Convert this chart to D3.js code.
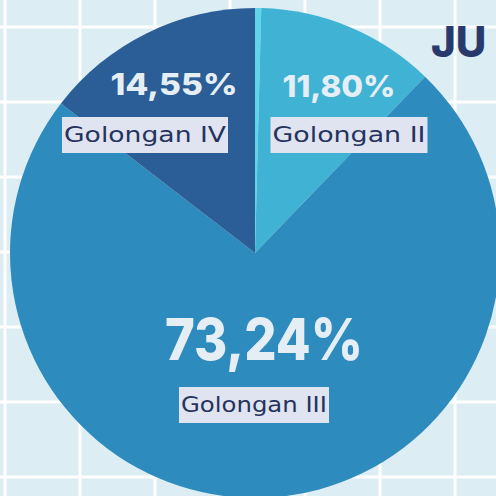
<!DOCTYPE html>
<html>
<head>
<meta charset="utf-8">
<script src="https://cdn.jsdelivr.net/npm/d3@7"></script>
<style>
  html, body { margin: 0; padding: 0; background: #dcedf4; }
  svg { display: block; }
</style>
</head>
<body>
<script>
// data (Golongan I is the thin sliver at the top)
var categories = ['Golongan I', 'Golongan II', 'Golongan III', 'Golongan IV'];
var values = [0.41, 11.80, 73.24, 14.55];
var valueLabels = ['', '11,80%', '73,24%', '14,55%'];

var colors = ['#5ed6ea', '#40b3d4', '#2d8bbd', '#2b5d97'];

var size = { width: 496, height: 496 };
var center = { x: 255, y: 253 };
var radius = 245;

// hand placed label spots, like the infographic
var labelSpots = {
  'Golongan II':  { x: 339, y: 97,  pctW: 113, bx: 349, by: 142, nameW: 153, pctSize: 30 },
  'Golongan III': { x: 264, y: 360, pctW: 198, bx: 254, by: 412, nameW: 146, pctSize: 58 },
  'Golongan IV':  { x: 174, y: 95,  pctW: 127, bx: 145, by: 142, nameW: 162, pctSize: 30 }
};

var svg = d3.select('body').append('svg')
            .attr('width', size.width)
            .attr('height', size.height);

svg.append('rect')
   .attr('width', size.width).attr('height', size.height)
   .attr('fill', '#dcedf4');

// background grid
var gridX = d3.range(5, size.width, 75);
var gridY = d3.range(27, size.height, 75);
svg.selectAll('line.vx').data(gridX).enter().append('line')
   .attr('x1', function(d) { return d; }).attr('x2', function(d) { return d; })
   .attr('y1', 0).attr('y2', size.height)
   .attr('stroke', '#ffffff').attr('stroke-width', 3);
svg.selectAll('line.hy').data(gridY).enter().append('line')
   .attr('y1', function(d) { return d; }).attr('y2', function(d) { return d; })
   .attr('x1', 0).attr('x2', size.width)
   .attr('stroke', '#ffffff').attr('stroke-width', 3);

// title fragment peeking in at the right
svg.append('text')
   .attr('x', 431).attr('y', 57)
   .attr('font-family', 'Inter, Lato, sans-serif')
   .attr('font-weight', 800)
   .attr('font-size', 42)
   .attr('fill', '#28396b')
   .text('JU');

var pie = d3.pie().sort(null).value(function(d) { return d; });
var arc = d3.arc().innerRadius(0).outerRadius(radius);

var slices = pie(values);
var g = svg.append('g').attr('transform', 'translate(' + center.x + ',' + center.y + ')');

g.selectAll('path').data(slices).enter().append('path')
 .attr('d', arc)
 .attr('fill', function(d, i) { return colors[i]; });

// labels
categories.forEach(function(name, i) {
  var spot = labelSpots[name];
  if (!spot) return;

  svg.append('text')
     .attr('x', spot.x).attr('y', spot.y)
     .attr('text-anchor', 'middle')
     .attr('font-family', 'Inter, Lato, sans-serif')
     .attr('font-weight', 800)
     .attr('font-size', spot.pctSize)
     .attr('textLength', spot.pctW)
     .attr('lengthAdjust', 'spacingAndGlyphs')
     .attr('fill', '#e6eef5')
     .text(valueLabels[i]);

  svg.append('rect')
     .attr('x', spot.bx - spot.nameW / 2 - 2).attr('y', spot.by - 25)
     .attr('width', spot.nameW + 4).attr('height', 36)
     .attr('fill', '#dfe4f0');

  svg.append('text')
     .attr('x', spot.bx).attr('y', spot.by)
     .attr('text-anchor', 'middle')
     .attr('font-family', '"DejaVu Sans", sans-serif')
     .attr('font-size', 21)
     .attr('textLength', spot.nameW)
     .attr('lengthAdjust', 'spacingAndGlyphs')
     .attr('fill', '#26335e')
     .text(name);
});
</script>
</body>
</html>
